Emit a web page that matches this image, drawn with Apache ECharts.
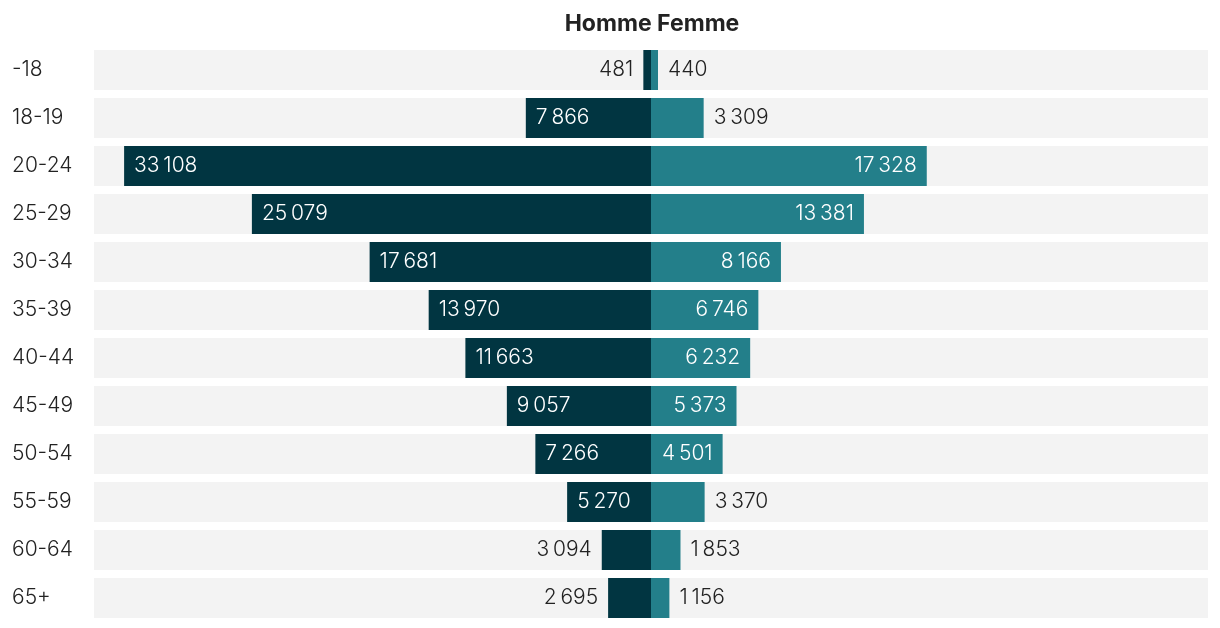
<!DOCTYPE html>
<html><head><meta charset="utf-8">
<script src="https://cdn.jsdelivr.net/npm/echarts@6/dist/echarts.min.js"></script>
<style>html,body{margin:0;padding:0;background:#fff}#c{width:1220px;height:628px}</style>
</head><body><div id="c"></div>
<script>
const categories = ['-18','18-19','20-24','25-29','30-34','35-39','40-44','45-49','50-54','55-59','60-64','65+'];
const homme = [481,7866,33108,25079,17681,13970,11663,9057,7266,5270,3094,2695];
const femme = [440,3309,17328,13381,8166,6746,6232,5373,4501,3370,1853,1156];
const seriesNames = ['Homme','Femme'];
const axisMax = 35000;

const FONT = 'Inter';
const fmt = v => String(Math.abs(v)).replace(/\B(?=(\d{3})+(?!\d))/g, '\u202F');
const INSIDE_MIN = 4000;

const hommeData = homme.map(v => {
  const inside = v >= INSIDE_MIN;
  return { value: -v, label: { position: inside ? 'insideLeft' : 'left', color: inside ? '#ffffff' : '#222222' } };
});
const femmeData = femme.map(v => {
  const inside = v >= INSIDE_MIN;
  return { value: v, label: { position: inside ? 'insideRight' : 'right', color: inside ? '#ffffff' : '#222222' } };
});

const labelBase = { show: true, fontFamily: FONT, fontSize: 21, fontWeight: 300, distance: 10, formatter: p => fmt(p.value) };

const chart = echarts.init(document.getElementById('c'), null, { renderer: 'canvas' });
chart.setOption({
  animation: false,
  title: { text: 'Homme Femme', left: 647, top: 8, textAlign: 'center',
    textStyle: { fontFamily: FONT, fontSize: 23, fontWeight: 700, color: '#222222' } },
  grid: { left: 94, right: 12, top: 46, bottom: 6, containLabel: false },
  xAxis: { type: 'value', min: -axisMax, max: axisMax, show: false },
  yAxis: { type: 'category', data: categories, inverse: true,
    axisLine: { show: false }, axisTick: { show: false },
    axisLabel: { align: 'left', margin: 82, fontFamily: FONT, fontSize: 21, fontWeight: 300, color: '#222222' } },
  series: [
    { name: seriesNames[0], type: 'bar', data: hommeData, barWidth: 40, barGap: '-100%',
      itemStyle: { color: '#013541' },
      showBackground: true, backgroundStyle: { color: '#f3f3f3' },
      label: labelBase },
    { name: seriesNames[1], type: 'bar', data: femmeData, barWidth: 40, barGap: '-100%',
      itemStyle: { color: '#237f8a' },
      label: labelBase }
  ]
});
</script></body></html>
